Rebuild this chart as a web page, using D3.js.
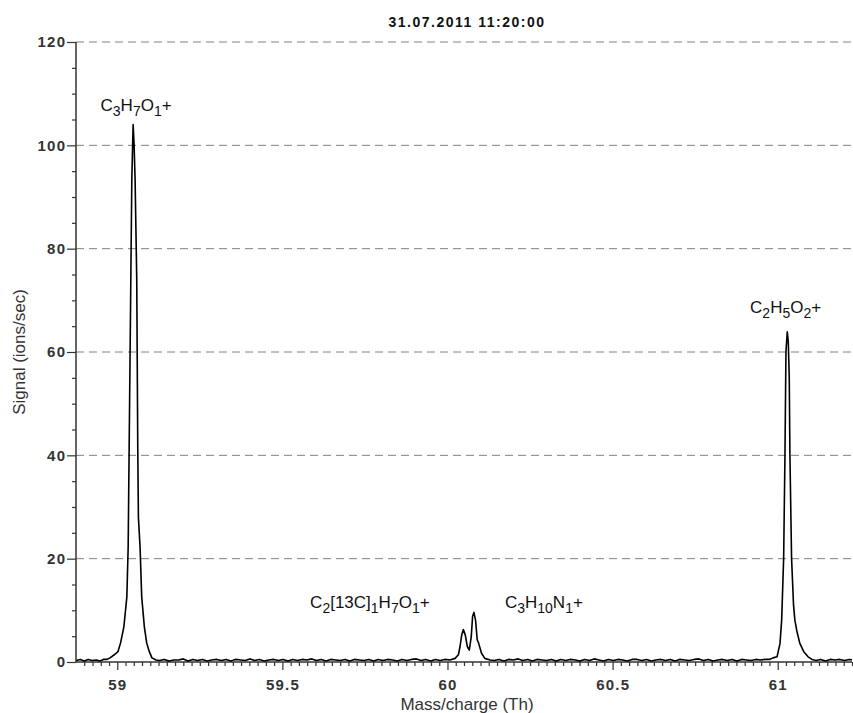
<!DOCTYPE html>
<html>
<head>
<meta charset="utf-8">
<script src="https://cdn.jsdelivr.net/npm/d3@7"></script>
<style>
  html, body { margin: 0; padding: 0; background: #fff; }
  svg { display: block; }
</style>
</head>
<body>
<div id="chart"></div>
<script>
// ---------------- DATA ----------------
const chartTitle = "31.07.2011 11:20:00";
const xTitle = "Mass/charge (Th)";
const yTitle = "Signal (ions/sec)";
const xMajorTicks = [59, 59.5, 60, 60.5, 61];
const xTickLabels = ["59", "59.5", "60", "60.5", "61"];
const yMajorTicks = [0, 20, 40, 60, 80, 100, 120];
const yTickLabels = ["0", "20", "40", "60", "80", "100", "120"];
const xDomain = [58.875, 61.225];
const yDomain = [0, 120];

// spectrum: mass (Th) and signal (ions/sec)
const spectrumMass = [
  58.876, 58.888, 58.900, 58.912, 58.924, 58.936, 58.948, 58.958,
  // C3H7O+ peak
  58.968, 58.978, 58.993, 59.002, 59.010, 59.020, 59.029, 59.033, 59.036, 59.041, 59.044, 59.048,
  59.051, 59.054, 59.059, 59.062, 59.064, 59.069, 59.074, 59.082, 59.089, 59.097, 59.105, 59.117,
  // baseline
  59.128, 59.142, 59.157, 59.171, 59.186, 59.200, 59.214, 59.229, 59.243, 59.258, 59.272, 59.286,
  59.301, 59.315, 59.330, 59.344, 59.358, 59.373, 59.387, 59.402, 59.416, 59.430, 59.445, 59.459,
  59.474, 59.488, 59.502, 59.517, 59.531, 59.546, 59.560, 59.574, 59.589, 59.603, 59.618, 59.632,
  59.646, 59.661, 59.675, 59.690, 59.704, 59.718, 59.733, 59.747, 59.762, 59.776, 59.790, 59.805,
  59.819, 59.834, 59.848, 59.862, 59.877, 59.891, 59.906, 59.920, 59.934, 59.949, 59.963, 59.978, 59.992,
  // doublet near 60
  60.0075, 60.023, 60.033, 60.038, 60.043, 60.048, 60.054, 60.060, 60.066, 60.072, 60.076, 60.080,
  60.085, 60.090, 60.094, 60.103, 60.113, 60.129,
  // baseline
  60.142, 60.156, 60.171, 60.185, 60.199, 60.214, 60.228, 60.243, 60.257, 60.271, 60.286, 60.300,
  60.315, 60.329, 60.343, 60.358, 60.372, 60.387, 60.401, 60.415, 60.430, 60.444, 60.459, 60.473,
  60.487, 60.502, 60.516, 60.531, 60.545, 60.559, 60.574, 60.588, 60.603, 60.617, 60.631, 60.646,
  60.660, 60.675, 60.689, 60.703, 60.718, 60.732, 60.747, 60.761, 60.775, 60.790, 60.804, 60.819,
  60.833, 60.847, 60.862, 60.876, 60.891, 60.905, 60.919, 60.934, 60.948, 60.963, 60.975,
  // C2H5O2+ peak
  60.986, 60.998, 61.007, 61.012, 61.018, 61.022, 61.025, 61.029, 61.032, 61.035, 61.037, 61.042,
  61.048, 61.052, 61.058, 61.067, 61.079, 61.092, 61.104,
  // baseline
  61.116, 61.130, 61.145, 61.159, 61.174, 61.188, 61.202, 61.217, 61.225
];
const spectrumSignal = [
  0.3, 0.5, 0.2, 0.5, 0.3, 0.4, 0.2, 0.5,
  0.5, 0.8, 1.5, 2.0, 3.7, 6.8, 12.6, 22.3, 41.7, 73.9, 93.3, 104.0,
  100.0, 93.3, 73.9, 41.7, 28.0, 22.3, 12.6, 6.8, 3.7, 2.0, 0.8, 0.4,
  0.3, 0.5, 0.2, 0.4, 0.4, 0.6, 0.2, 0.5, 0.3, 0.5, 0.2, 0.4,
  0.5, 0.3, 0.5, 0.2, 0.5, 0.4, 0.3, 0.6, 0.3, 0.5, 0.2, 0.4,
  0.5, 0.3, 0.5, 0.2, 0.5, 0.3, 0.5, 0.4, 0.6, 0.3, 0.5, 0.2,
  0.5, 0.4, 0.3, 0.5, 0.2, 0.5, 0.4, 0.3, 0.5, 0.2, 0.5, 0.3,
  0.5, 0.4, 0.2, 0.5, 0.3, 0.5, 0.6, 0.3, 0.5, 0.2, 0.5, 0.3, 0.5,
  0.4, 0.7, 1.4, 3.0, 5.2, 6.3, 5.2, 3.0, 2.3, 4.9, 8.8, 9.6,
  8.1, 4.3, 3.7, 1.7, 0.7, 0.4,
  0.3, 0.5, 0.2, 0.5, 0.4, 0.6, 0.3, 0.5, 0.2, 0.5, 0.4, 0.3,
  0.5, 0.2, 0.5, 0.3, 0.5, 0.4, 0.2, 0.5, 0.3, 0.6, 0.4, 0.2,
  0.5, 0.3, 0.5, 0.4, 0.2, 0.5, 0.5, 0.3, 0.5, 0.2, 0.4, 0.5,
  0.3, 0.5, 0.2, 0.5, 0.4, 0.3, 0.5, 0.6, 0.3, 0.5, 0.2, 0.4,
  0.5, 0.3, 0.5, 0.2, 0.5, 0.4, 0.3, 0.5, 0.4, 0.5, 0.5,
  0.8, 1.0, 3.6, 8.1, 20.1, 40.1, 60.1, 63.9, 62.0, 55.0, 40.1, 20.1,
  11.0, 8.1, 6.0, 3.6, 2.0, 1.0, 0.5,
  0.3, 0.5, 0.2, 0.5, 0.4, 0.5, 0.3, 0.5, 0.4
];

// peak annotations: parts are [text, isSubscript]
const peakLabels = [
  [["C",0],["3",1],["H",0],["7",1],["O",0],["1",1],["+",0]],
  [["C",0],["2",1],["[13C]",0],["1",1],["H",0],["7",1],["O",0],["1",1],["+",0]],
  [["C",0],["3",1],["H",0],["10",1],["N",0],["1",1],["+",0]],
  [["C",0],["2",1],["H",0],["5",1],["O",0],["2",1],["+",0]]
];
const labelMass = [59.057, 59.765, 60.292, 61.024];
const labelSignal = [106.6, 10.4, 10.45, 67.5];

// ---------------- LAYOUT ----------------
const W = 853, H = 713;
const plot = { left: 76, right: 852, top: 42, bottom: 662 };

const svg = d3.select("#chart").append("svg")
  .attr("width", W).attr("height", H)
  .attr("font-family", "'Liberation Sans', Arial, sans-serif");

const x = d3.scaleLinear().domain(xDomain).range([plot.left, plot.right]);
const y = d3.scaleLinear().domain(yDomain).range([plot.bottom, plot.top]);

// gridlines
svg.append("g").selectAll("line")
  .data(yMajorTicks.filter(d => d > 0))
  .join("line")
  .attr("x1", plot.left).attr("x2", plot.right)
  .attr("y1", d => y(d)).attr("y2", d => y(d))
  .attr("stroke", "#808080").attr("stroke-width", 1)
  .attr("stroke-dasharray", "8,5");

// x axis
const xMinor = d3.range(58.9, 61.2251, 0.025).filter(v => !xMajorTicks.some(m => Math.abs(m - v) < 1e-6));
const xAxisG = svg.append("g").attr("transform", `translate(0,${plot.bottom})`);
xAxisG.call(d3.axisBottom(x).tickValues(xMinor).tickSize(4).tickFormat(""))
  .call(g => g.select(".domain").remove());
xAxisG.append("g").call(d3.axisBottom(x).tickValues(xMajorTicks).tickSize(8).tickFormat(""))
  .call(g => g.select(".domain").remove());
xAxisG.selectAll(".tick line").attr("stroke", "#333").attr("stroke-width", 1.2);
xAxisG.append("line").attr("x1", plot.left).attr("x2", plot.right)
  .attr("stroke", "#333").attr("stroke-width", 1.5);
svg.append("g").selectAll("text").data(xMajorTicks).join("text")
  .attr("x", (d) => x(d) + 0.6).attr("y", 690)
  .attr("text-anchor", "middle")
  .attr("font-size", 15).attr("font-weight", "bold")
  .attr("letter-spacing", 1.2)
  .attr("fill", "#333")
  .text((d, i) => xTickLabels[i]);

// y axis
const yMinor = d3.range(0, 120.01, 5).filter(v => v % 20 !== 0);
const yAxisG = svg.append("g").attr("transform", `translate(${plot.left},0)`);
yAxisG.call(d3.axisLeft(y).tickValues(yMinor).tickSize(4).tickFormat(""))
  .call(g => g.select(".domain").remove());
yAxisG.append("g").call(d3.axisLeft(y).tickValues(yMajorTicks).tickSize(9).tickFormat(""))
  .call(g => g.select(".domain").remove());
yAxisG.selectAll(".tick line").attr("stroke", "#333").attr("stroke-width", 1.2);
yAxisG.append("line").attr("y1", plot.top).attr("y2", plot.bottom)
  .attr("stroke", "#333").attr("stroke-width", 1.5);
svg.append("g").selectAll("text").data(yMajorTicks).join("text")
  .attr("x", 65 + 1.2).attr("y", d => y(d) + 5.3)
  .attr("text-anchor", "end")
  .attr("font-size", 15).attr("font-weight", "bold")
  .attr("letter-spacing", 1.2)
  .attr("fill", "#333")
  .text((d, i) => yTickLabels[i]);

// spectrum line
svg.append("defs").append("clipPath").attr("id", "clip")
  .append("rect").attr("x", plot.left).attr("y", plot.top - 5)
  .attr("width", plot.right - plot.left).attr("height", plot.bottom - plot.top + 5);

const pts = spectrumMass.map((m, i) => [m, spectrumSignal[i]]);
svg.append("path")
  .datum(pts)
  .attr("clip-path", "url(#clip)")
  .attr("fill", "none")
  .attr("stroke", "#000")
  .attr("stroke-width", 1.6)
  .attr("stroke-linejoin", "round")
  .attr("d", d3.line().x(d => x(d[0])).y(d => y(d[1])));

// peak labels
peakLabels.forEach((parts, i) => {
  const t = svg.append("text")
    .attr("x", x(labelMass[i])).attr("y", y(labelSignal[i]))
    .attr("text-anchor", "middle")
    .attr("fill", "#111");
  let prevSub = false;
  parts.forEach(([txt, sub]) => {
    const dy = sub && !prevSub ? 5 : (!sub && prevSub ? -5 : 0);
    t.append("tspan")
      .attr("dy", dy)
      .attr("font-size", sub ? 14 : 17)
      .text(txt);
    prevSub = !!sub;
  });
});

// title
svg.append("text")
  .attr("x", 467).attr("y", 27)
  .attr("text-anchor", "middle")
  .attr("font-size", 14).attr("font-weight", "bold")
  .attr("letter-spacing", 1.5)
  .attr("fill", "#111")
  .text(chartTitle);

// axis titles
svg.append("text")
  .attr("x", (plot.left + plot.right) / 2 + 3).attr("y", 710)
  .attr("text-anchor", "middle")
  .attr("font-size", 17)
  .attr("fill", "#333")
  .text(xTitle);

svg.append("text")
  .attr("transform", `translate(25,${(plot.top + plot.bottom) / 2}) rotate(-90)`)
  .attr("text-anchor", "middle")
  .attr("font-size", 17)
  .attr("fill", "#333")
  .text(yTitle);
</script>
</body>
</html>
